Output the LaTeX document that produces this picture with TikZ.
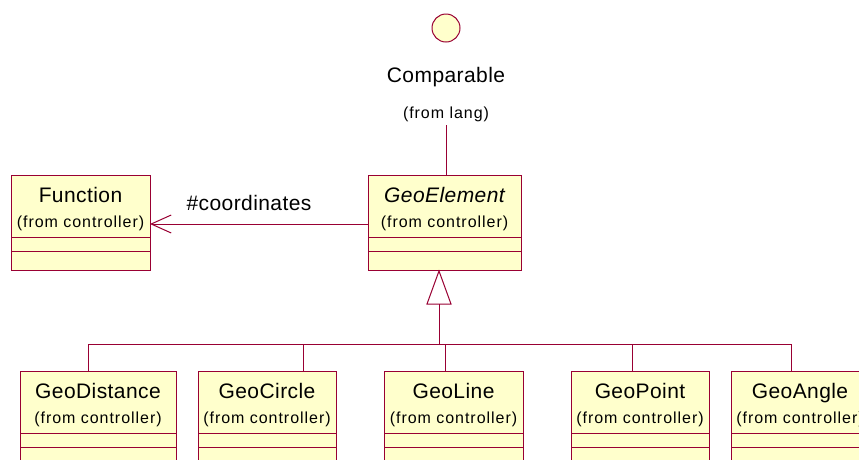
\documentclass[tikz,border=0pt]{standalone}
\usepackage{fontspec}
\setmainfont{Liberation Sans}
\newfontfamily\namefont[LetterSpace=2]{Liberation Sans}
\newfontfamily\notefont[LetterSpace=6]{Liberation Sans}
\usetikzlibrary{arrows.meta}
\definecolor{umlline}{HTML}{990033}
\definecolor{umlfill}{HTML}{FFFFCC}

% one UML class: id, left, right, top, bottom, title text, title font
\newcommand\umlclass[7]{%
  \node[umlbox, anchor=north west, minimum width={(#3-#2)*1pt},
        minimum height={(#5-#4)*1pt}] (#1) at (#2,#4) {};
  \draw[umlsep] ([yshift=-62pt]#1.north west) -- ([yshift=-62pt]#1.north east);
  \draw[umlsep] ([yshift=-76pt]#1.north west) -- ([yshift=-76pt]#1.north east);
  \node[anchor=base, inner sep=0, font=#7] (#1-name) at ([yshift=-27.5pt]#1.north) {#6};
  \node[anchor=base, inner sep=0, font=\notefont\fontsize{16}{18}\selectfont]
       (#1-from) at ([yshift=-52.5pt]#1.north) {(from controller)};
}

\begin{document}
\begin{tikzpicture}[x=1pt, y=-1pt,
  umlbox/.style={draw=umlline, fill=umlfill, line width=1pt, inner sep=0pt, outer sep=0pt},
  umlsep/.style={draw=umlline, line width=0.9pt},
  link/.style={draw=umlline, line width=1pt},
  bigtext/.style={inner sep=0pt, font=\namefont\fontsize{21}{24}\selectfont},
]
\clip (0,0) rectangle (859,459);
\fill[white] (0,0) rectangle (859,459);

% interface Comparable
\node[circle, draw=umlline, fill=umlfill, line width=1pt, minimum size=28pt, inner sep=0pt]
  (cmp) at (446,28) {};
\node[bigtext, anchor=base] (cmp-name) at (446,82) {Comparable};
\node[anchor=base, inner sep=0pt, font=\notefont\fontsize{16}{18}\selectfont]
  (cmp-from) at (446,118) {(from lang)};

% classes
\umlclass{fn}{11}{150}{175}{270}{Function}{\namefont\fontsize{21}{24}\selectfont}
\umlclass{ge}{368}{521}{175}{270}{GeoElement}{\namefont\fontsize{21}{24}\selectfont\itshape}
\umlclass{gd}{20}{176}{371}{500}{GeoDistance}{\namefont\fontsize{21}{24}\selectfont}
\umlclass{gc}{198}{336}{371}{500}{GeoCircle}{\namefont\fontsize{21}{24}\selectfont}
\umlclass{gl}{384}{523}{371}{500}{GeoLine}{\namefont\fontsize{21}{24}\selectfont}
\umlclass{gp}{571}{709}{371}{500}{GeoPoint}{\namefont\fontsize{21}{24}\selectfont}
\umlclass{ga}{731}{869}{371}{500}{GeoAngle}{\namefont\fontsize{21}{24}\selectfont}

% realization of Comparable
\coordinate (cmp-top) at (446,125);
\draw[link] (cmp-top) -- (cmp-top |- ge.north);

% association #coordinates
\coordinate (assoc) at (0,224);
\draw[link, -{Straight Barb[length=20pt, width=18pt, line width=1pt]}]
  (assoc -| ge.west) -- (assoc -| fn.east);
\node[bigtext, anchor=base] (role) at (249,210) {\#coordinates};

% generalization tree
\coordinate (apex) at (439,271);
\coordinate (bus) at (439,344);
\draw[link, fill=white] (apex) -- (451,304) -- (427,304) -- cycle;
\draw[link] (439,304) -- (bus);
\coordinate (busL) at (88,344);
\coordinate (busR) at (791,344);
\draw[link] (busL) -- (busR);
\foreach \cx/\id in {88/gd, 303/gc, 445/gl, 632/gp, 791/ga}
  \draw[link] (\cx,344) -- (\cx,344 |- \id.north);
\end{tikzpicture}
\end{document}
